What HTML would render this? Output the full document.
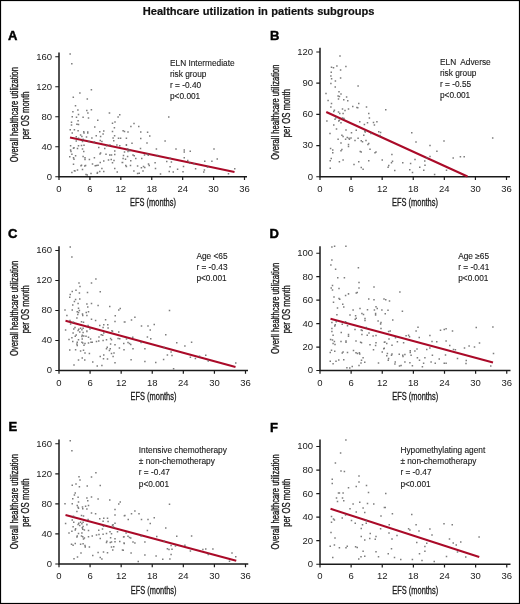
<!DOCTYPE html><html><head><meta charset="utf-8"><style>html,body{margin:0;padding:0;background:#fff}svg{display:block;will-change:transform}text{font-family:"Liberation Sans", sans-serif}</style></head><body>
<svg width="520" height="604" viewBox="0 0 520 604">
<rect x="0" y="0" width="520" height="604" fill="#fff"/>
<rect x="0.5" y="0.5" width="519" height="603" fill="none" stroke="#000" stroke-width="1.2"/>
<text x="258.6" y="15.4" font-size="11.1" font-weight="bold" text-anchor="middle" fill="#111" stroke="#111" stroke-width="0.2" word-spacing="0.3">Healthcare utilization in patients subgroups</text>
<g><text x="7.9" y="39.55" font-size="13" font-weight="bold" fill="#000" stroke="#000" stroke-width="0.45">A</text><path d="M59 52.4V176.75H247" fill="none" stroke="#1a1a1a" stroke-width="1.5"/><text x="52" y="179.65" font-size="9.5" text-anchor="end" fill="#1a1a1a">0</text><text x="52" y="149.65" font-size="9.5" text-anchor="end" fill="#1a1a1a">40</text><text x="52" y="119.65" font-size="9.5" text-anchor="end" fill="#1a1a1a">80</text><text x="52" y="89.65" font-size="9.5" text-anchor="end" fill="#1a1a1a">120</text><text x="52" y="59.65" font-size="9.5" text-anchor="end" fill="#1a1a1a">160</text><text x="59" y="191.85" font-size="9.5" text-anchor="middle" fill="#1a1a1a">0</text><text x="89.92" y="191.85" font-size="9.5" text-anchor="middle" fill="#1a1a1a">6</text><text x="120.83" y="191.85" font-size="9.5" text-anchor="middle" fill="#1a1a1a">12</text><text x="151.75" y="191.85" font-size="9.5" text-anchor="middle" fill="#1a1a1a">18</text><text x="182.67" y="191.85" font-size="9.5" text-anchor="middle" fill="#1a1a1a">24</text><text x="213.58" y="191.85" font-size="9.5" text-anchor="middle" fill="#1a1a1a">30</text><text x="244.5" y="191.85" font-size="9.5" text-anchor="middle" fill="#1a1a1a">36</text><path d="M55.3 176.75H59M55.3 146.75H59M55.3 116.75H59M55.3 86.75H59M55.3 56.75H59M59 176.75V179.95M89.92 176.75V179.95M120.83 176.75V179.95M151.75 176.75V179.95M182.67 176.75V179.95M213.58 176.75V179.95M244.5 176.75V179.95" stroke="#1a1a1a" stroke-width="1.2" fill="none"/><line x1="70" y1="137.5" x2="234.5" y2="172" stroke="#aa0a28" stroke-width="2"/><path d="M69.4 53.15h1.5v1.5h-1.5zM71.05 63.1h1.5v1.5h-1.5zM90.65 88.95h1.5v1.5h-1.5zM79.15 92.25h1.5v1.5h-1.5zM72.55 96.55h1.5v1.5h-1.5zM86.55 98.35h1.5v1.5h-1.5zM74.75 105h1.5v1.5h-1.5zM77.15 109.25h1.5v1.5h-1.5zM72.15 111.05h1.5v1.5h-1.5zM86.05 109.65h1.5v1.5h-1.5zM90.65 109.05h1.5v1.5h-1.5zM87.15 112.35h1.5v1.5h-1.5zM108.75 112.25h1.5v1.5h-1.5zM77.75 113.75h1.5v1.5h-1.5zM71.5 116h1.5v1.5h-1.5zM75.75 116.5h1.5v1.5h-1.5zM82.35 116.5h1.5v1.5h-1.5zM87.75 117.25h1.5v1.5h-1.5zM77.35 120h1.5v1.5h-1.5zM70.75 121.5h1.5v1.5h-1.5zM97 119.5h1.5v1.5h-1.5zM70.75 124.25h1.5v1.5h-1.5zM76.15 123.5h1.5v1.5h-1.5zM77.75 123.75h1.5v1.5h-1.5zM108.65 112.25h1.5v1.5h-1.5zM119 114h1.5v1.5h-1.5zM117.35 116.25h1.5v1.5h-1.5zM111.75 122.5h1.5v1.5h-1.5zM114.25 121.25h1.5v1.5h-1.5zM94 126.25h1.5v1.5h-1.5zM113.65 127h1.5v1.5h-1.5zM69.5 129h1.5v1.5h-1.5zM73.65 129h1.5v1.5h-1.5zM77.35 130h1.5v1.5h-1.5zM83 131h1.5v1.5h-1.5zM83.25 132.25h1.5v1.5h-1.5zM87 131.25h1.5v1.5h-1.5zM87 132.25h1.5v1.5h-1.5zM99 131h1.5v1.5h-1.5zM103 130.25h1.5v1.5h-1.5zM102.35 133.15h1.5v1.5h-1.5zM111.75 130.65h1.5v1.5h-1.5zM122.35 130h1.5v1.5h-1.5zM71.5 132.25h1.5v1.5h-1.5zM79.85 134.35h1.5v1.5h-1.5zM81.15 135.65h1.5v1.5h-1.5zM85.75 136.25h1.5v1.5h-1.5zM95.5 135h1.5v1.5h-1.5zM99.85 135.65h1.5v1.5h-1.5zM91.15 137.25h1.5v1.5h-1.5zM113.85 135h1.5v1.5h-1.5zM112.35 137.25h1.5v1.5h-1.5zM117.75 137.5h1.5v1.5h-1.5zM119.85 137.5h1.5v1.5h-1.5zM75.5 136h1.5v1.5h-1.5zM77.75 137.5h1.5v1.5h-1.5zM82.35 138.5h1.5v1.5h-1.5zM75.5 140.25h1.5v1.5h-1.5zM81.75 140.65h1.5v1.5h-1.5zM88.25 140.65h1.5v1.5h-1.5zM93.65 141.25h1.5v1.5h-1.5zM99.5 139.75h1.5v1.5h-1.5zM101.15 140.65h1.5v1.5h-1.5zM113 140h1.5v1.5h-1.5zM69.85 145h1.5v1.5h-1.5zM72.75 147.5h1.5v1.5h-1.5zM73.25 147h1.5v1.5h-1.5zM77.75 145h1.5v1.5h-1.5zM80.75 144.75h1.5v1.5h-1.5zM83.25 144.5h1.5v1.5h-1.5zM76.75 147.85h1.5v1.5h-1.5zM81.75 148.25h1.5v1.5h-1.5zM69.85 149.15h1.5v1.5h-1.5zM70.25 150.75h1.5v1.5h-1.5zM83 150.75h1.5v1.5h-1.5zM71.15 153.5h1.5v1.5h-1.5zM74.85 155h1.5v1.5h-1.5zM69 156h1.5v1.5h-1.5zM72.75 157h1.5v1.5h-1.5zM73.25 158.5h1.5v1.5h-1.5zM82.35 155.75h1.5v1.5h-1.5zM84.25 157h1.5v1.5h-1.5zM84.25 158.75h1.5v1.5h-1.5zM88.65 158.75h1.5v1.5h-1.5zM93.65 157h1.5v1.5h-1.5zM98 146.65h1.5v1.5h-1.5zM104 147.85h1.5v1.5h-1.5zM99.85 152.25h1.5v1.5h-1.5zM99.25 153.25h1.5v1.5h-1.5zM105.25 153.5h1.5v1.5h-1.5zM109 154.15h1.5v1.5h-1.5zM110.75 154.15h1.5v1.5h-1.5zM114 150.35h1.5v1.5h-1.5zM114 153.75h1.5v1.5h-1.5zM116.15 144.15h1.5v1.5h-1.5zM119 145h1.5v1.5h-1.5zM105.75 145h1.5v1.5h-1.5zM109.25 144.15h1.5v1.5h-1.5zM122.75 154.75h1.5v1.5h-1.5zM122.35 157.85h1.5v1.5h-1.5zM72.75 163.5h1.5v1.5h-1.5zM80.75 164.5h1.5v1.5h-1.5zM80.25 165h1.5v1.5h-1.5zM84.85 164.75h1.5v1.5h-1.5zM84 165.35h1.5v1.5h-1.5zM91.75 163.25h1.5v1.5h-1.5zM94.5 165h1.5v1.5h-1.5zM95.75 164.75h1.5v1.5h-1.5zM97.35 164.5h1.5v1.5h-1.5zM99.5 161.65h1.5v1.5h-1.5zM103 160.35h1.5v1.5h-1.5zM107.75 159.15h1.5v1.5h-1.5zM110.5 158.75h1.5v1.5h-1.5zM113.25 159.75h1.5v1.5h-1.5zM111.75 162h1.5v1.5h-1.5zM121.5 161.65h1.5v1.5h-1.5zM71.15 171.65h1.5v1.5h-1.5zM73.65 170h1.5v1.5h-1.5zM74.25 170.35h1.5v1.5h-1.5zM76.75 169.15h1.5v1.5h-1.5zM81.75 168.75h1.5v1.5h-1.5zM85.25 173.75h1.5v1.5h-1.5zM86.5 174.15h1.5v1.5h-1.5zM90.25 172.85h1.5v1.5h-1.5zM96.75 171.65h1.5v1.5h-1.5zM96.5 172.5h1.5v1.5h-1.5zM99 170.75h1.5v1.5h-1.5zM101.15 167.85h1.5v1.5h-1.5zM103 170.75h1.5v1.5h-1.5zM114 167.85h1.5v1.5h-1.5zM116.5 171.25h1.5v1.5h-1.5zM168 116.15h1.5v1.5h-1.5zM130.15 125.75h1.5v1.5h-1.5zM133.25 122.75h1.5v1.5h-1.5zM138 125.75h1.5v1.5h-1.5zM123.75 130.85h1.5v1.5h-1.5zM127.25 131.25h1.5v1.5h-1.5zM140 131.25h1.5v1.5h-1.5zM146.85 131.5h1.5v1.5h-1.5zM149 135.25h1.5v1.5h-1.5zM125.65 137.5h1.5v1.5h-1.5zM140 137.85h1.5v1.5h-1.5zM164.35 140.25h1.5v1.5h-1.5zM131.25 142.5h1.5v1.5h-1.5zM146.25 142.25h1.5v1.5h-1.5zM125.65 144h1.5v1.5h-1.5zM125.65 144.5h1.5v1.5h-1.5zM126.85 148.25h1.5v1.5h-1.5zM128.5 149.15h1.5v1.5h-1.5zM127.25 150.75h1.5v1.5h-1.5zM129 150h1.5v1.5h-1.5zM123.75 151.25h1.5v1.5h-1.5zM139.75 147.85h1.5v1.5h-1.5zM155.65 148.25h1.5v1.5h-1.5zM175.25 148.25h1.5v1.5h-1.5zM183.5 149.15h1.5v1.5h-1.5zM183.5 151.25h1.5v1.5h-1.5zM126.85 155.75h1.5v1.5h-1.5zM132.25 154.15h1.5v1.5h-1.5zM133.5 155h1.5v1.5h-1.5zM143.75 154.15h1.5v1.5h-1.5zM146.85 153.5h1.5v1.5h-1.5zM147.5 154.5h1.5v1.5h-1.5zM156.85 154.75h1.5v1.5h-1.5zM135 157.85h1.5v1.5h-1.5zM141 157.85h1.5v1.5h-1.5zM124.75 158.5h1.5v1.5h-1.5zM130 160h1.5v1.5h-1.5zM169.35 157.5h1.5v1.5h-1.5zM166 160.75h1.5v1.5h-1.5zM170.65 161.25h1.5v1.5h-1.5zM183.5 157h1.5v1.5h-1.5zM121.85 161.65h1.5v1.5h-1.5zM154.35 162h1.5v1.5h-1.5zM147.75 163.25h1.5v1.5h-1.5zM148.5 164.75h1.5v1.5h-1.5zM125 164.75h1.5v1.5h-1.5zM125.65 165.75h1.5v1.5h-1.5zM129.75 164.75h1.5v1.5h-1.5zM136.85 165.35h1.5v1.5h-1.5zM140.65 167h1.5v1.5h-1.5zM142.75 165.75h1.5v1.5h-1.5zM144 166.65h1.5v1.5h-1.5zM154.75 167.85h1.5v1.5h-1.5zM169.35 166h1.5v1.5h-1.5zM182.75 165.75h1.5v1.5h-1.5zM133.15 170.35h1.5v1.5h-1.5zM136.85 172.85h1.5v1.5h-1.5zM138.5 172.5h1.5v1.5h-1.5zM142.25 170.35h1.5v1.5h-1.5zM159.75 173.25h1.5v1.5h-1.5zM168.5 170.75h1.5v1.5h-1.5zM172.5 171.25h1.5v1.5h-1.5zM176.85 168.5h1.5v1.5h-1.5zM182.25 171h1.5v1.5h-1.5zM189.5 150.5h1.5v1.5h-1.5zM213.25 148.25h1.5v1.5h-1.5zM216.5 158.25h1.5v1.5h-1.5zM204 160.5h1.5v1.5h-1.5zM211.15 160.5h1.5v1.5h-1.5zM187 159.85h1.5v1.5h-1.5zM189 162.35h1.5v1.5h-1.5zM193.25 163h1.5v1.5h-1.5zM194.85 168h1.5v1.5h-1.5zM203.65 169.25h1.5v1.5h-1.5zM203 171.15h1.5v1.5h-1.5zM206.75 166.15h1.5v1.5h-1.5zM227.75 173h1.5v1.5h-1.5zM234 168h1.5v1.5h-1.5z" fill="#666" fill-opacity="0.85"/><text transform="translate(17.7 114.58) rotate(-90) scale(0.69 1)" font-size="11" text-anchor="middle" fill="#1a1a1a" stroke="#1a1a1a" stroke-width="0.35">Overall healthcare utilization</text><text transform="translate(29.1 115.48) rotate(-90) scale(0.705 1)" font-size="11" text-anchor="middle" fill="#1a1a1a" stroke="#1a1a1a" stroke-width="0.35">per OS month</text><text transform="translate(153 206.4) scale(0.725 1)" font-size="10.25" text-anchor="middle" fill="#1a1a1a" stroke="#1a1a1a" stroke-width="0.3">EFS (months)</text><text x="170" y="65.9" font-size="8.3" fill="#1a1a1a" stroke="#1a1a1a" stroke-width="0.12" style="white-space:pre">ELN Intermediate</text><text x="170" y="76.95" font-size="8.3" fill="#1a1a1a" stroke="#1a1a1a" stroke-width="0.12" style="white-space:pre">risk group</text><text x="170" y="88" font-size="8.3" fill="#1a1a1a" stroke="#1a1a1a" stroke-width="0.12" style="white-space:pre">r = -0.40</text><text x="170" y="99.05" font-size="8.3" fill="#1a1a1a" stroke="#1a1a1a" stroke-width="0.12" style="white-space:pre">p&lt;0.001</text></g>
<g><text x="269.9" y="39.55" font-size="13" font-weight="bold" fill="#000" stroke="#000" stroke-width="0.45">B</text><path d="M320 47.7V176.75H510" fill="none" stroke="#1a1a1a" stroke-width="1.5"/><text x="313" y="179.65" font-size="9.5" text-anchor="end" fill="#1a1a1a">0</text><text x="313" y="148.46" font-size="9.5" text-anchor="end" fill="#1a1a1a">30</text><text x="313" y="117.28" font-size="9.5" text-anchor="end" fill="#1a1a1a">60</text><text x="313" y="86.09" font-size="9.5" text-anchor="end" fill="#1a1a1a">90</text><text x="313" y="54.9" font-size="9.5" text-anchor="end" fill="#1a1a1a">120</text><text x="320" y="191.85" font-size="9.5" text-anchor="middle" fill="#1a1a1a">0</text><text x="351.08" y="191.85" font-size="9.5" text-anchor="middle" fill="#1a1a1a">6</text><text x="382.17" y="191.85" font-size="9.5" text-anchor="middle" fill="#1a1a1a">12</text><text x="413.25" y="191.85" font-size="9.5" text-anchor="middle" fill="#1a1a1a">18</text><text x="444.33" y="191.85" font-size="9.5" text-anchor="middle" fill="#1a1a1a">24</text><text x="475.42" y="191.85" font-size="9.5" text-anchor="middle" fill="#1a1a1a">30</text><text x="506.5" y="191.85" font-size="9.5" text-anchor="middle" fill="#1a1a1a">36</text><path d="M316.3 176.75H320M316.3 145.56H320M316.3 114.38H320M316.3 83.19H320M316.3 52H320M320 176.75V179.95M351.08 176.75V179.95M382.17 176.75V179.95M413.25 176.75V179.95M444.33 176.75V179.95M475.42 176.75V179.95M506.5 176.75V179.95" stroke="#1a1a1a" stroke-width="1.2" fill="none"/><line x1="326.25" y1="112" x2="467.5" y2="176.5" stroke="#aa0a28" stroke-width="2"/><path d="M339.25 55.25h1.5v1.5h-1.5zM330.75 66.5h1.5v1.5h-1.5zM332.75 67h1.5v1.5h-1.5zM336.15 65.15h1.5v1.5h-1.5zM345.15 65.85h1.5v1.5h-1.5zM339.85 69.25h1.5v1.5h-1.5zM330.5 71.5h1.5v1.5h-1.5zM330.15 75.15h1.5v1.5h-1.5zM330.85 78h1.5v1.5h-1.5zM339.85 77.35h1.5v1.5h-1.5zM334.65 80.25h1.5v1.5h-1.5zM330.15 82.75h1.5v1.5h-1.5zM334.5 86.25h1.5v1.5h-1.5zM357.35 85.15h1.5v1.5h-1.5zM325.25 92.65h1.5v1.5h-1.5zM338.25 91h1.5v1.5h-1.5zM340.25 93.25h1.5v1.5h-1.5zM337.35 95.25h1.5v1.5h-1.5zM338.65 95.75h1.5v1.5h-1.5zM337.75 98.25h1.5v1.5h-1.5zM345.85 96.35h1.5v1.5h-1.5zM343 99h1.5v1.5h-1.5zM327.35 99.75h1.5v1.5h-1.5zM347 100h1.5v1.5h-1.5zM330.75 102.85h1.5v1.5h-1.5zM330.15 106.25h1.5v1.5h-1.5zM358 102.85h1.5v1.5h-1.5zM352 105.65h1.5v1.5h-1.5zM356.15 106.65h1.5v1.5h-1.5zM357 107h1.5v1.5h-1.5zM365.75 106.25h1.5v1.5h-1.5zM341.75 108.25h1.5v1.5h-1.5zM344.25 109.75h1.5v1.5h-1.5zM347.75 108.25h1.5v1.5h-1.5zM333.65 109.5h1.5v1.5h-1.5zM333 110.75h1.5v1.5h-1.5zM337.75 111.25h1.5v1.5h-1.5zM339 112.85h1.5v1.5h-1.5zM342.35 112.85h1.5v1.5h-1.5zM368 112.85h1.5v1.5h-1.5zM335.25 117h1.5v1.5h-1.5zM341.75 117.25h1.5v1.5h-1.5zM343.25 117.85h1.5v1.5h-1.5zM334.25 118.5h1.5v1.5h-1.5zM368.65 117.25h1.5v1.5h-1.5zM326.15 120.15h1.5v1.5h-1.5zM338 120.35h1.5v1.5h-1.5zM338.65 119.5h1.5v1.5h-1.5zM340.25 122h1.5v1.5h-1.5zM359 121h1.5v1.5h-1.5zM333 124.15h1.5v1.5h-1.5zM363.65 123.75h1.5v1.5h-1.5zM366.75 122h1.5v1.5h-1.5zM372.75 121.65h1.5v1.5h-1.5zM376.15 121h1.5v1.5h-1.5zM373.65 124.15h1.5v1.5h-1.5zM335.75 128.25h1.5v1.5h-1.5zM345.25 129.15h1.5v1.5h-1.5zM355.5 129.5h1.5v1.5h-1.5zM364 130.35h1.5v1.5h-1.5zM364.5 131.25h1.5v1.5h-1.5zM350.75 132h1.5v1.5h-1.5zM370.25 132.85h1.5v1.5h-1.5zM378 131h1.5v1.5h-1.5zM379.85 131.65h1.5v1.5h-1.5zM329.25 132.85h1.5v1.5h-1.5zM341.15 134.5h1.5v1.5h-1.5zM342.35 135.75h1.5v1.5h-1.5zM363 134.5h1.5v1.5h-1.5zM346.5 136.65h1.5v1.5h-1.5zM348.25 137.5h1.5v1.5h-1.5zM350.25 137.25h1.5v1.5h-1.5zM337.35 138.5h1.5v1.5h-1.5zM357.35 137.5h1.5v1.5h-1.5zM344.85 138.5h1.5v1.5h-1.5zM379.25 134.75h1.5v1.5h-1.5zM348.65 138.5h1.5v1.5h-1.5zM354.25 139.75h1.5v1.5h-1.5zM360.5 140h1.5v1.5h-1.5zM361.75 141h1.5v1.5h-1.5zM365.25 139.75h1.5v1.5h-1.5zM340.25 142.25h1.5v1.5h-1.5zM347.75 143.75h1.5v1.5h-1.5zM347.75 145.75h1.5v1.5h-1.5zM368 142.85h1.5v1.5h-1.5zM367.15 143.75h1.5v1.5h-1.5zM329.85 147.85h1.5v1.5h-1.5zM332 149.15h1.5v1.5h-1.5zM341.15 148.75h1.5v1.5h-1.5zM340.25 150h1.5v1.5h-1.5zM369.25 148.5h1.5v1.5h-1.5zM332 152h1.5v1.5h-1.5zM359.5 150.75h1.5v1.5h-1.5zM360.5 151.25h1.5v1.5h-1.5zM374.25 152h1.5v1.5h-1.5zM375.25 151.25h1.5v1.5h-1.5zM330.5 157.85h1.5v1.5h-1.5zM329.5 160h1.5v1.5h-1.5zM342.35 159.15h1.5v1.5h-1.5zM338.65 161h1.5v1.5h-1.5zM358 161h1.5v1.5h-1.5zM368 160h1.5v1.5h-1.5zM381.5 159.15h1.5v1.5h-1.5zM353.25 163.75h1.5v1.5h-1.5zM329.5 167.5h1.5v1.5h-1.5zM360.5 166.65h1.5v1.5h-1.5zM362.35 168.5h1.5v1.5h-1.5zM385 109h1.5v1.5h-1.5zM440.25 99.5h1.5v1.5h-1.5zM415.25 141.15h1.5v1.5h-1.5zM443.25 140.25h1.5v1.5h-1.5zM429.25 144.85h1.5v1.5h-1.5zM436.15 150.5h1.5v1.5h-1.5zM391.15 153.65h1.5v1.5h-1.5zM429.25 155.75h1.5v1.5h-1.5zM426.15 157.35h1.5v1.5h-1.5zM391.75 160.5h1.5v1.5h-1.5zM390.75 162h1.5v1.5h-1.5zM414.25 158.65h1.5v1.5h-1.5zM424 160.25h1.5v1.5h-1.5zM402 162h1.5v1.5h-1.5zM409.85 162.75h1.5v1.5h-1.5zM388 164.85h1.5v1.5h-1.5zM387.35 166.5h1.5v1.5h-1.5zM424.25 164.5h1.5v1.5h-1.5zM419 166.5h1.5v1.5h-1.5zM394 169.85h1.5v1.5h-1.5zM409 169h1.5v1.5h-1.5zM411.75 171.75h1.5v1.5h-1.5zM423 169.5h1.5v1.5h-1.5zM433.85 173.65h1.5v1.5h-1.5zM491.95 137.35h1.5v1.5h-1.5zM452.45 157.15h1.5v1.5h-1.5zM459.65 156.1h1.5v1.5h-1.5zM463.45 156.1h1.5v1.5h-1.5zM445.75 169.45h1.5v1.5h-1.5zM411 132h1.5v1.5h-1.5z" fill="#666" fill-opacity="0.85"/><text transform="translate(278.7 112.22) rotate(-90) scale(0.69 1)" font-size="11" text-anchor="middle" fill="#1a1a1a" stroke="#1a1a1a" stroke-width="0.35">Overall healthcare utilization</text><text transform="translate(290.1 113.12) rotate(-90) scale(0.705 1)" font-size="11" text-anchor="middle" fill="#1a1a1a" stroke="#1a1a1a" stroke-width="0.35">per OS month</text><text transform="translate(415 206.4) scale(0.725 1)" font-size="10.25" text-anchor="middle" fill="#1a1a1a" stroke="#1a1a1a" stroke-width="0.3">EFS (months)</text><text x="440" y="65" font-size="8.3" fill="#1a1a1a" stroke="#1a1a1a" stroke-width="0.12" style="white-space:pre">ELN  Adverse</text><text x="440" y="76.05" font-size="8.3" fill="#1a1a1a" stroke="#1a1a1a" stroke-width="0.12" style="white-space:pre">risk group</text><text x="440" y="87.1" font-size="8.3" fill="#1a1a1a" stroke="#1a1a1a" stroke-width="0.12" style="white-space:pre">r = -0.55</text><text x="440" y="98.15" font-size="8.3" fill="#1a1a1a" stroke="#1a1a1a" stroke-width="0.12" style="white-space:pre">p&lt;0.001</text></g>
<g><text x="7.9" y="237.8" font-size="13" font-weight="bold" fill="#000" stroke="#000" stroke-width="0.45">C</text><path d="M59 246.25V370.5H248" fill="none" stroke="#1a1a1a" stroke-width="1.5"/><text x="52" y="373.4" font-size="9.5" text-anchor="end" fill="#1a1a1a">0</text><text x="52" y="343.4" font-size="9.5" text-anchor="end" fill="#1a1a1a">40</text><text x="52" y="313.4" font-size="9.5" text-anchor="end" fill="#1a1a1a">80</text><text x="52" y="283.4" font-size="9.5" text-anchor="end" fill="#1a1a1a">120</text><text x="52" y="253.4" font-size="9.5" text-anchor="end" fill="#1a1a1a">160</text><text x="59" y="385.6" font-size="9.5" text-anchor="middle" fill="#1a1a1a">0</text><text x="90.08" y="385.6" font-size="9.5" text-anchor="middle" fill="#1a1a1a">6</text><text x="121.17" y="385.6" font-size="9.5" text-anchor="middle" fill="#1a1a1a">12</text><text x="152.25" y="385.6" font-size="9.5" text-anchor="middle" fill="#1a1a1a">18</text><text x="183.33" y="385.6" font-size="9.5" text-anchor="middle" fill="#1a1a1a">24</text><text x="214.42" y="385.6" font-size="9.5" text-anchor="middle" fill="#1a1a1a">30</text><text x="245.5" y="385.6" font-size="9.5" text-anchor="middle" fill="#1a1a1a">36</text><path d="M55.3 370.5H59M55.3 340.5H59M55.3 310.5H59M55.3 280.5H59M55.3 250.5H59M59 370.5V373.7M90.08 370.5V373.7M121.17 370.5V373.7M152.25 370.5V373.7M183.33 370.5V373.7M214.42 370.5V373.7M245.5 370.5V373.7" stroke="#1a1a1a" stroke-width="1.2" fill="none"/><line x1="65.5" y1="320.75" x2="235.5" y2="367" stroke="#aa0a28" stroke-width="2"/><path d="M69.5 246.35h1.5v1.5h-1.5zM71.15 256.35h1.5v1.5h-1.5zM95.15 278.25h1.5v1.5h-1.5zM78.25 282.25h1.5v1.5h-1.5zM90.75 282.35h1.5v1.5h-1.5zM79.25 285.75h1.5v1.5h-1.5zM75.25 289.5h1.5v1.5h-1.5zM71.5 290.75h1.5v1.5h-1.5zM78.65 292.25h1.5v1.5h-1.5zM86.75 291.75h1.5v1.5h-1.5zM99.5 291h1.5v1.5h-1.5zM69.5 293.75h1.5v1.5h-1.5zM69 296.5h1.5v1.5h-1.5zM74.85 298.75h1.5v1.5h-1.5zM73.65 300.65h1.5v1.5h-1.5zM79 298.15h1.5v1.5h-1.5zM72 304.35h1.5v1.5h-1.5zM77.35 302.75h1.5v1.5h-1.5zM86.15 303.15h1.5v1.5h-1.5zM90.75 302.75h1.5v1.5h-1.5zM87 306.25h1.5v1.5h-1.5zM97.35 304.75h1.5v1.5h-1.5zM109 305.65h1.5v1.5h-1.5zM64.25 309.35h1.5v1.5h-1.5zM71.5 309.35h1.5v1.5h-1.5zM77.75 307.5h1.5v1.5h-1.5zM78.65 309.75h1.5v1.5h-1.5zM76.5 311h1.5v1.5h-1.5zM77.75 311.85h1.5v1.5h-1.5zM77 313.75h1.5v1.5h-1.5zM81.75 313.15h1.5v1.5h-1.5zM82 314.75h1.5v1.5h-1.5zM85.5 311.85h1.5v1.5h-1.5zM87.75 311h1.5v1.5h-1.5zM86.15 314.75h1.5v1.5h-1.5zM118 309.35h1.5v1.5h-1.5zM119.5 307.75h1.5v1.5h-1.5zM66.15 314.75h1.5v1.5h-1.5zM114.5 315h1.5v1.5h-1.5zM76.15 317.25h1.5v1.5h-1.5zM90.75 318.5h1.5v1.5h-1.5zM94.85 319.75h1.5v1.5h-1.5zM104.85 319h1.5v1.5h-1.5zM114.25 320.65h1.5v1.5h-1.5zM123.65 321.25h1.5v1.5h-1.5zM69.25 319.75h1.5v1.5h-1.5zM80.75 321h1.5v1.5h-1.5zM82.75 321.5h1.5v1.5h-1.5zM69.85 323.15h1.5v1.5h-1.5zM72.75 321.5h1.5v1.5h-1.5zM99 324.75h1.5v1.5h-1.5zM103 324h1.5v1.5h-1.5zM107 324h1.5v1.5h-1.5zM87.35 324.75h1.5v1.5h-1.5zM102.35 326.85h1.5v1.5h-1.5zM107.35 327.25h1.5v1.5h-1.5zM74.25 326.85h1.5v1.5h-1.5zM73 328.15h1.5v1.5h-1.5zM78 328.5h1.5v1.5h-1.5zM79.85 327.5h1.5v1.5h-1.5zM81.15 329h1.5v1.5h-1.5zM82.35 327.5h1.5v1.5h-1.5zM64.85 329.35h1.5v1.5h-1.5zM86.15 330.65h1.5v1.5h-1.5zM111.15 330h1.5v1.5h-1.5zM89.25 328.15h1.5v1.5h-1.5zM77.35 329.85h1.5v1.5h-1.5zM79 331.15h1.5v1.5h-1.5zM82.35 331.75h1.5v1.5h-1.5zM86.15 330.25h1.5v1.5h-1.5zM72.35 332.35h1.5v1.5h-1.5zM75.5 334.25h1.5v1.5h-1.5zM74.5 335.5h1.5v1.5h-1.5zM81.5 334.5h1.5v1.5h-1.5zM83 335.25h1.5v1.5h-1.5zM81.15 335.75h1.5v1.5h-1.5zM85.25 335.5h1.5v1.5h-1.5zM87.75 336.5h1.5v1.5h-1.5zM71.15 337h1.5v1.5h-1.5zM68.25 338.65h1.5v1.5h-1.5zM77.75 339h1.5v1.5h-1.5zM81.5 338.25h1.5v1.5h-1.5zM89.85 338.25h1.5v1.5h-1.5zM98.25 336.15h1.5v1.5h-1.5zM100.5 334h1.5v1.5h-1.5zM102 334.5h1.5v1.5h-1.5zM103 332.35h1.5v1.5h-1.5zM111.75 330.5h1.5v1.5h-1.5zM118 331.15h1.5v1.5h-1.5zM117.35 337.75h1.5v1.5h-1.5zM119 338h1.5v1.5h-1.5zM109.85 337.75h1.5v1.5h-1.5zM110.75 339h1.5v1.5h-1.5zM72 340.75h1.5v1.5h-1.5zM76.5 341.5h1.5v1.5h-1.5zM76.15 343.25h1.5v1.5h-1.5zM76.5 344.85h1.5v1.5h-1.5zM81.15 341.5h1.5v1.5h-1.5zM82 342.35h1.5v1.5h-1.5zM84.25 342.75h1.5v1.5h-1.5zM83.25 344.5h1.5v1.5h-1.5zM87.75 342.35h1.5v1.5h-1.5zM90.25 341.5h1.5v1.5h-1.5zM91.5 341.5h1.5v1.5h-1.5zM95.75 340.75h1.5v1.5h-1.5zM98 340.25h1.5v1.5h-1.5zM102.35 339.85h1.5v1.5h-1.5zM105.75 339h1.5v1.5h-1.5zM109.85 343.25h1.5v1.5h-1.5zM114.25 344h1.5v1.5h-1.5zM123 342.75h1.5v1.5h-1.5zM106.5 346.5h1.5v1.5h-1.5zM105.75 348h1.5v1.5h-1.5zM109.5 348h1.5v1.5h-1.5zM108.65 349.85h1.5v1.5h-1.5zM118.65 347.35h1.5v1.5h-1.5zM123.25 349h1.5v1.5h-1.5zM69 349.25h1.5v1.5h-1.5zM74.85 349h1.5v1.5h-1.5zM79.85 350.25h1.5v1.5h-1.5zM82.75 349.5h1.5v1.5h-1.5zM84.25 352.35h1.5v1.5h-1.5zM88.65 352.75h1.5v1.5h-1.5zM110.75 352.75h1.5v1.5h-1.5zM113.25 352.35h1.5v1.5h-1.5zM103 354.25h1.5v1.5h-1.5zM99.5 355.75h1.5v1.5h-1.5zM112.35 355.75h1.5v1.5h-1.5zM77.75 359.25h1.5v1.5h-1.5zM81.5 357.35h1.5v1.5h-1.5zM84 359.25h1.5v1.5h-1.5zM102.75 358h1.5v1.5h-1.5zM106.75 358.25h1.5v1.5h-1.5zM92 361.15h1.5v1.5h-1.5zM114.25 362h1.5v1.5h-1.5zM73.25 364.25h1.5v1.5h-1.5zM96.5 365.25h1.5v1.5h-1.5zM101.15 364.85h1.5v1.5h-1.5zM168.75 309.85h1.5v1.5h-1.5zM134.15 316.5h1.5v1.5h-1.5zM130.75 319.25h1.5v1.5h-1.5zM124.15 321.35h1.5v1.5h-1.5zM140.75 325.15h1.5v1.5h-1.5zM147.25 325.25h1.5v1.5h-1.5zM153.5 323.65h1.5v1.5h-1.5zM149.5 329.25h1.5v1.5h-1.5zM165 334h1.5v1.5h-1.5zM132 336.5h1.5v1.5h-1.5zM146.65 336.15h1.5v1.5h-1.5zM150 338h1.5v1.5h-1.5zM125.75 338.25h1.5v1.5h-1.5zM127.25 341.75h1.5v1.5h-1.5zM128.75 342.75h1.5v1.5h-1.5zM130 343.65h1.5v1.5h-1.5zM140.35 341.75h1.5v1.5h-1.5zM176 342h1.5v1.5h-1.5zM184.15 345.25h1.5v1.5h-1.5zM163.5 346.75h1.5v1.5h-1.5zM132.25 348h1.5v1.5h-1.5zM144.15 348h1.5v1.5h-1.5zM170.35 351.15h1.5v1.5h-1.5zM166.65 354.25h1.5v1.5h-1.5zM171.25 354.85h1.5v1.5h-1.5zM130.35 359h1.5v1.5h-1.5zM144.15 360.75h1.5v1.5h-1.5zM155 361.75h1.5v1.5h-1.5zM162.85 358.65h1.5v1.5h-1.5zM172.85 368h1.5v1.5h-1.5zM190.85 341.5h1.5v1.5h-1.5zM189.65 356.5h1.5v1.5h-1.5zM194.65 357.75h1.5v1.5h-1.5zM198.75 355.5h1.5v1.5h-1.5zM205 354.5h1.5v1.5h-1.5zM207.5 360.25h1.5v1.5h-1.5zM235 362.35h1.5v1.5h-1.5z" fill="#666" fill-opacity="0.85"/><text transform="translate(17.7 308.38) rotate(-90) scale(0.69 1)" font-size="11" text-anchor="middle" fill="#1a1a1a" stroke="#1a1a1a" stroke-width="0.35">Overall healthcare utilization</text><text transform="translate(29.1 309.27) rotate(-90) scale(0.705 1)" font-size="11" text-anchor="middle" fill="#1a1a1a" stroke="#1a1a1a" stroke-width="0.35">per OS month</text><text transform="translate(153.5 400.15) scale(0.725 1)" font-size="10.25" text-anchor="middle" fill="#1a1a1a" stroke="#1a1a1a" stroke-width="0.3">EFS (months)</text><text x="196.4" y="258.8" font-size="8.3" fill="#1a1a1a" stroke="#1a1a1a" stroke-width="0.12" style="white-space:pre">Age &lt;65</text><text x="196.4" y="269.85" font-size="8.3" fill="#1a1a1a" stroke="#1a1a1a" stroke-width="0.12" style="white-space:pre">r = -0.43</text><text x="196.4" y="280.9" font-size="8.3" fill="#1a1a1a" stroke="#1a1a1a" stroke-width="0.12" style="white-space:pre">p&lt;0.001</text></g>
<g><text x="269.4" y="237.8" font-size="13" font-weight="bold" fill="#000" stroke="#000" stroke-width="0.45">D</text><path d="M320 246.25V370.5H510.5" fill="none" stroke="#1a1a1a" stroke-width="1.5"/><text x="313" y="373.4" font-size="9.5" text-anchor="end" fill="#1a1a1a">0</text><text x="313" y="349.95" font-size="9.5" text-anchor="end" fill="#1a1a1a">20</text><text x="313" y="326.5" font-size="9.5" text-anchor="end" fill="#1a1a1a">40</text><text x="313" y="303.05" font-size="9.5" text-anchor="end" fill="#1a1a1a">60</text><text x="313" y="279.6" font-size="9.5" text-anchor="end" fill="#1a1a1a">80</text><text x="313" y="256.15" font-size="9.5" text-anchor="end" fill="#1a1a1a">100</text><text x="320" y="385.6" font-size="9.5" text-anchor="middle" fill="#1a1a1a">0</text><text x="351.12" y="385.6" font-size="9.5" text-anchor="middle" fill="#1a1a1a">6</text><text x="382.25" y="385.6" font-size="9.5" text-anchor="middle" fill="#1a1a1a">12</text><text x="413.38" y="385.6" font-size="9.5" text-anchor="middle" fill="#1a1a1a">18</text><text x="444.5" y="385.6" font-size="9.5" text-anchor="middle" fill="#1a1a1a">24</text><text x="475.62" y="385.6" font-size="9.5" text-anchor="middle" fill="#1a1a1a">30</text><text x="506.75" y="385.6" font-size="9.5" text-anchor="middle" fill="#1a1a1a">36</text><path d="M316.3 370.5H320M316.3 347.05H320M316.3 323.6H320M316.3 300.15H320M316.3 276.7H320M316.3 253.25H320M320 370.5V373.7M351.12 370.5V373.7M382.25 370.5V373.7M413.38 370.5V373.7M444.5 370.5V373.7M475.62 370.5V373.7M506.75 370.5V373.7" stroke="#1a1a1a" stroke-width="1.2" fill="none"/><line x1="330.5" y1="318.75" x2="493" y2="362.5" stroke="#aa0a28" stroke-width="2"/><path d="M331.15 246.35h1.5v1.5h-1.5zM333.85 245.5h1.5v1.5h-1.5zM345.15 245.5h1.5v1.5h-1.5zM331.15 259.25h1.5v1.5h-1.5zM330.15 264.25h1.5v1.5h-1.5zM357.65 267h1.5v1.5h-1.5zM334.85 268.5h1.5v1.5h-1.5zM337 277h1.5v1.5h-1.5zM343.65 277h1.5v1.5h-1.5zM358.25 281.65h1.5v1.5h-1.5zM331.75 284.75h1.5v1.5h-1.5zM330.5 287.25h1.5v1.5h-1.5zM331.75 289.25h1.5v1.5h-1.5zM338.25 287.75h1.5v1.5h-1.5zM358.25 287.35h1.5v1.5h-1.5zM373.25 286.35h1.5v1.5h-1.5zM347.75 293h1.5v1.5h-1.5zM355.5 292.25h1.5v1.5h-1.5zM356.5 291.75h1.5v1.5h-1.5zM347.75 293.15h1.5v1.5h-1.5zM344.85 294.75h1.5v1.5h-1.5zM333.25 296.25h1.5v1.5h-1.5zM338.25 297.75h1.5v1.5h-1.5zM339 298.5h1.5v1.5h-1.5zM332.75 301.5h1.5v1.5h-1.5zM368 298.15h1.5v1.5h-1.5zM373.25 299h1.5v1.5h-1.5zM383.25 298.15h1.5v1.5h-1.5zM342 303.5h1.5v1.5h-1.5zM343 306.25h1.5v1.5h-1.5zM336.75 307.25h1.5v1.5h-1.5zM352.35 309.35h1.5v1.5h-1.5zM359.25 307.75h1.5v1.5h-1.5zM366.75 309h1.5v1.5h-1.5zM375.25 306h1.5v1.5h-1.5zM376.5 307.75h1.5v1.5h-1.5zM373.65 309.35h1.5v1.5h-1.5zM381.15 309.35h1.5v1.5h-1.5zM336.15 314h1.5v1.5h-1.5zM349.25 314.35h1.5v1.5h-1.5zM354.85 315h1.5v1.5h-1.5zM361.15 312.75h1.5v1.5h-1.5zM362.75 313.75h1.5v1.5h-1.5zM374.85 312.75h1.5v1.5h-1.5zM374.85 314.35h1.5v1.5h-1.5zM355.5 317.5h1.5v1.5h-1.5zM354.5 318.5h1.5v1.5h-1.5zM364.25 317.75h1.5v1.5h-1.5zM364.25 319.75h1.5v1.5h-1.5zM335.5 321h1.5v1.5h-1.5zM344.85 321h1.5v1.5h-1.5zM331.15 321.85h1.5v1.5h-1.5zM377.35 320.25h1.5v1.5h-1.5zM380.25 321.85h1.5v1.5h-1.5zM379.85 323.15h1.5v1.5h-1.5zM334.5 324h1.5v1.5h-1.5zM334 325.25h1.5v1.5h-1.5zM341.5 323.5h1.5v1.5h-1.5zM346.75 325h1.5v1.5h-1.5zM365.5 326.85h1.5v1.5h-1.5zM331.15 327.75h1.5v1.5h-1.5zM354.25 328.75h1.5v1.5h-1.5zM360.5 329.35h1.5v1.5h-1.5zM380.25 327.75h1.5v1.5h-1.5zM331.15 330.65h1.5v1.5h-1.5zM340.5 331.75h1.5v1.5h-1.5zM332.35 334.5h1.5v1.5h-1.5zM347.75 333.65h1.5v1.5h-1.5zM347.75 335.5h1.5v1.5h-1.5zM361.15 333.65h1.5v1.5h-1.5zM361.5 329.85h1.5v1.5h-1.5zM366.5 334.5h1.5v1.5h-1.5zM368.25 332.35h1.5v1.5h-1.5zM372.35 335.25h1.5v1.5h-1.5zM375.25 334.85h1.5v1.5h-1.5zM329.85 338.65h1.5v1.5h-1.5zM331.75 339.25h1.5v1.5h-1.5zM333.65 340.75h1.5v1.5h-1.5zM332.35 342.75h1.5v1.5h-1.5zM334.25 343.65h1.5v1.5h-1.5zM340.25 340.75h1.5v1.5h-1.5zM345.25 340.25h1.5v1.5h-1.5zM345.25 341.5h1.5v1.5h-1.5zM355.25 340.25h1.5v1.5h-1.5zM359.85 341.5h1.5v1.5h-1.5zM360.75 342h1.5v1.5h-1.5zM375.25 342h1.5v1.5h-1.5zM369.25 344h1.5v1.5h-1.5zM374.85 344.85h1.5v1.5h-1.5zM383.65 341.5h1.5v1.5h-1.5zM383 348h1.5v1.5h-1.5zM330.75 349.5h1.5v1.5h-1.5zM329.5 351.75h1.5v1.5h-1.5zM334 350.5h1.5v1.5h-1.5zM342.35 351.15h1.5v1.5h-1.5zM341.5 352.35h1.5v1.5h-1.5zM346.75 351.75h1.5v1.5h-1.5zM352.75 349.85h1.5v1.5h-1.5zM355.25 352h1.5v1.5h-1.5zM356.75 352.75h1.5v1.5h-1.5zM358.65 352h1.5v1.5h-1.5zM359 353.25h1.5v1.5h-1.5zM372.75 349h1.5v1.5h-1.5zM381.5 351.15h1.5v1.5h-1.5zM362.35 357h1.5v1.5h-1.5zM360.75 359.5h1.5v1.5h-1.5zM329.5 360.5h1.5v1.5h-1.5zM332.35 363h1.5v1.5h-1.5zM335.25 360.5h1.5v1.5h-1.5zM338 359.25h1.5v1.5h-1.5zM343 359h1.5v1.5h-1.5zM364 361.5h1.5v1.5h-1.5zM360.25 362.35h1.5v1.5h-1.5zM377.75 362.35h1.5v1.5h-1.5zM358.25 364.85h1.5v1.5h-1.5zM351.5 365.75h1.5v1.5h-1.5zM346.15 367h1.5v1.5h-1.5zM349 367.35h1.5v1.5h-1.5zM399.15 291.15h1.5v1.5h-1.5zM385 299h1.5v1.5h-1.5zM388.75 300.25h1.5v1.5h-1.5zM387.25 309.5h1.5v1.5h-1.5zM384.5 313h1.5v1.5h-1.5zM401.65 310.5h1.5v1.5h-1.5zM392 319.25h1.5v1.5h-1.5zM417.25 326.5h1.5v1.5h-1.5zM443.5 328.65h1.5v1.5h-1.5zM445.35 328h1.5v1.5h-1.5zM387.85 330.75h1.5v1.5h-1.5zM389.5 330.35h1.5v1.5h-1.5zM415.35 330.35h1.5v1.5h-1.5zM439.75 329.5h1.5v1.5h-1.5zM388.25 338.25h1.5v1.5h-1.5zM394.75 337h1.5v1.5h-1.5zM405.35 335h1.5v1.5h-1.5zM407.85 334.5h1.5v1.5h-1.5zM408.75 336h1.5v1.5h-1.5zM418.5 336.65h1.5v1.5h-1.5zM429.15 334.75h1.5v1.5h-1.5zM384.15 341.25h1.5v1.5h-1.5zM386 342.85h1.5v1.5h-1.5zM396.65 341h1.5v1.5h-1.5zM402.85 342h1.5v1.5h-1.5zM391.25 344.5h1.5v1.5h-1.5zM431.25 340.75h1.5v1.5h-1.5zM436 341h1.5v1.5h-1.5zM445.35 340.35h1.5v1.5h-1.5zM383.5 347.5h1.5v1.5h-1.5zM409.5 350h1.5v1.5h-1.5zM409.5 351.65h1.5v1.5h-1.5zM414.15 350.35h1.5v1.5h-1.5zM416.25 348.25h1.5v1.5h-1.5zM426 348.75h1.5v1.5h-1.5zM429.15 347.25h1.5v1.5h-1.5zM386.65 352.85h1.5v1.5h-1.5zM386 355h1.5v1.5h-1.5zM391.25 353.25h1.5v1.5h-1.5zM390.75 354.5h1.5v1.5h-1.5zM398.5 353.5h1.5v1.5h-1.5zM402 354.5h1.5v1.5h-1.5zM402.25 355.75h1.5v1.5h-1.5zM404.15 353.75h1.5v1.5h-1.5zM410.35 354.5h1.5v1.5h-1.5zM431.65 354.5h1.5v1.5h-1.5zM444.75 354.15h1.5v1.5h-1.5zM387.85 357.85h1.5v1.5h-1.5zM387.5 359.5h1.5v1.5h-1.5zM416.65 357h1.5v1.5h-1.5zM418.75 359.5h1.5v1.5h-1.5zM424.15 357h1.5v1.5h-1.5zM438.5 358.25h1.5v1.5h-1.5zM394.5 361.25h1.5v1.5h-1.5zM394.15 363.25h1.5v1.5h-1.5zM404.15 361.25h1.5v1.5h-1.5zM409.15 362h1.5v1.5h-1.5zM411.65 365h1.5v1.5h-1.5zM422.85 362.5h1.5v1.5h-1.5zM430.35 361.25h1.5v1.5h-1.5zM434.5 362.5h1.5v1.5h-1.5zM443.5 362.5h1.5v1.5h-1.5zM445.35 362.5h1.5v1.5h-1.5zM398.75 365.35h1.5v1.5h-1.5zM400.35 364.75h1.5v1.5h-1.5zM421.65 366h1.5v1.5h-1.5zM451.75 330.25h1.5v1.5h-1.5zM475.5 326.75h1.5v1.5h-1.5zM492.15 326.35h1.5v1.5h-1.5zM449 344.85h1.5v1.5h-1.5zM452.75 348.65h1.5v1.5h-1.5zM454.65 349h1.5v1.5h-1.5zM463.75 347.35h1.5v1.5h-1.5zM468.35 345.25h1.5v1.5h-1.5zM473.75 346.15h1.5v1.5h-1.5zM478.75 342.35h1.5v1.5h-1.5zM492.75 352.75h1.5v1.5h-1.5zM456.75 357.65h1.5v1.5h-1.5zM465.5 359.85h1.5v1.5h-1.5zM465.25 362.75h1.5v1.5h-1.5zM490 365.25h1.5v1.5h-1.5z" fill="#666" fill-opacity="0.85"/><text transform="translate(278.7 308.38) rotate(-90) scale(0.69 1)" font-size="11" text-anchor="middle" fill="#1a1a1a" stroke="#1a1a1a" stroke-width="0.35">Overll healthcare utilization</text><text transform="translate(290.1 309.27) rotate(-90) scale(0.705 1)" font-size="11" text-anchor="middle" fill="#1a1a1a" stroke="#1a1a1a" stroke-width="0.35">per OS month</text><text transform="translate(415.25 400.15) scale(0.725 1)" font-size="10.25" text-anchor="middle" fill="#1a1a1a" stroke="#1a1a1a" stroke-width="0.3">EFS (months)</text><text x="458.2" y="258.8" font-size="8.3" fill="#1a1a1a" stroke="#1a1a1a" stroke-width="0.12" style="white-space:pre">Age ≥65</text><text x="458.2" y="269.85" font-size="8.3" fill="#1a1a1a" stroke="#1a1a1a" stroke-width="0.12" style="white-space:pre">r = -0.41</text><text x="458.2" y="280.9" font-size="8.3" fill="#1a1a1a" stroke="#1a1a1a" stroke-width="0.12" style="white-space:pre">p&lt;0.001</text></g>
<g><text x="8.4" y="431.05" font-size="13" font-weight="bold" fill="#000" stroke="#000" stroke-width="0.45">E</text><path d="M59 439.5V564H248.25" fill="none" stroke="#1a1a1a" stroke-width="1.5"/><text x="52" y="566.9" font-size="9.5" text-anchor="end" fill="#1a1a1a">0</text><text x="52" y="536.84" font-size="9.5" text-anchor="end" fill="#1a1a1a">40</text><text x="52" y="506.77" font-size="9.5" text-anchor="end" fill="#1a1a1a">80</text><text x="52" y="476.71" font-size="9.5" text-anchor="end" fill="#1a1a1a">120</text><text x="52" y="446.65" font-size="9.5" text-anchor="end" fill="#1a1a1a">160</text><text x="59" y="579.1" font-size="9.5" text-anchor="middle" fill="#1a1a1a">0</text><text x="90.08" y="579.1" font-size="9.5" text-anchor="middle" fill="#1a1a1a">6</text><text x="121.17" y="579.1" font-size="9.5" text-anchor="middle" fill="#1a1a1a">12</text><text x="152.25" y="579.1" font-size="9.5" text-anchor="middle" fill="#1a1a1a">18</text><text x="183.33" y="579.1" font-size="9.5" text-anchor="middle" fill="#1a1a1a">24</text><text x="214.42" y="579.1" font-size="9.5" text-anchor="middle" fill="#1a1a1a">30</text><text x="245.5" y="579.1" font-size="9.5" text-anchor="middle" fill="#1a1a1a">36</text><path d="M55.3 564H59M55.3 533.94H59M55.3 503.88H59M55.3 473.81H59M55.3 443.75H59M59 564V567.2M90.08 564V567.2M121.17 564V567.2M152.25 564V567.2M183.33 564V567.2M214.42 564V567.2M245.5 564V567.2" stroke="#1a1a1a" stroke-width="1.2" fill="none"/><line x1="65.5" y1="515" x2="236.25" y2="560.75" stroke="#aa0a28" stroke-width="2"/><path d="M69.5 440h1.5v1.5h-1.5zM71.15 450h1.5v1.5h-1.5zM95.15 472h1.5v1.5h-1.5zM78.25 476h1.5v1.5h-1.5zM90.75 476.25h1.5v1.5h-1.5zM79.25 479.35h1.5v1.5h-1.5zM75.25 483.15h1.5v1.5h-1.5zM71.5 484.5h1.5v1.5h-1.5zM78.65 486h1.5v1.5h-1.5zM86.5 485.35h1.5v1.5h-1.5zM99.5 484.75h1.5v1.5h-1.5zM74.5 492.15h1.5v1.5h-1.5zM73.65 494.25h1.5v1.5h-1.5zM72 498h1.5v1.5h-1.5zM77.35 496.5h1.5v1.5h-1.5zM86.15 497.15h1.5v1.5h-1.5zM90.75 496.25h1.5v1.5h-1.5zM87 500h1.5v1.5h-1.5zM97.35 498.35h1.5v1.5h-1.5zM109 499.25h1.5v1.5h-1.5zM64.25 503h1.5v1.5h-1.5zM71.5 503h1.5v1.5h-1.5zM77.75 501.25h1.5v1.5h-1.5zM76.5 504.65h1.5v1.5h-1.5zM77.35 506.5h1.5v1.5h-1.5zM77.75 507.5h1.5v1.5h-1.5zM81.75 506.25h1.5v1.5h-1.5zM82 508h1.5v1.5h-1.5zM84.85 505.5h1.5v1.5h-1.5zM87.75 504.65h1.5v1.5h-1.5zM86.15 508.35h1.5v1.5h-1.5zM118 503.35h1.5v1.5h-1.5zM119.5 501.25h1.5v1.5h-1.5zM114.25 508.75h1.5v1.5h-1.5zM76.15 510.85h1.5v1.5h-1.5zM90.75 512.15h1.5v1.5h-1.5zM94.85 513h1.5v1.5h-1.5zM114.25 514.25h1.5v1.5h-1.5zM123.65 515h1.5v1.5h-1.5zM80.75 514.65h1.5v1.5h-1.5zM82.75 515.25h1.5v1.5h-1.5zM72.75 515.5h1.5v1.5h-1.5zM71.5 519.25h1.5v1.5h-1.5zM99 518h1.5v1.5h-1.5zM103 517.5h1.5v1.5h-1.5zM106.75 517.5h1.5v1.5h-1.5zM87.35 518.75h1.5v1.5h-1.5zM102.35 520.5h1.5v1.5h-1.5zM107.35 520.85h1.5v1.5h-1.5zM73 521.5h1.5v1.5h-1.5zM78 522.5h1.5v1.5h-1.5zM79.85 521.5h1.5v1.5h-1.5zM81.15 523h1.5v1.5h-1.5zM82.35 521.5h1.5v1.5h-1.5zM64.85 522.75h1.5v1.5h-1.5zM86.15 524h1.5v1.5h-1.5zM114.25 522.5h1.5v1.5h-1.5zM112.35 524h1.5v1.5h-1.5zM77.35 523.85h1.5v1.5h-1.5zM79 524.75h1.5v1.5h-1.5zM82.35 525.75h1.5v1.5h-1.5zM86.15 523.85h1.5v1.5h-1.5zM72.35 526h1.5v1.5h-1.5zM74.85 528h1.5v1.5h-1.5zM74.5 529.25h1.5v1.5h-1.5zM81.5 527h1.5v1.5h-1.5zM82 528.5h1.5v1.5h-1.5zM83.65 529.25h1.5v1.5h-1.5zM87.75 529.75h1.5v1.5h-1.5zM71.15 530.5h1.5v1.5h-1.5zM68.25 532.25h1.5v1.5h-1.5zM77.75 532.65h1.5v1.5h-1.5zM81.15 532.25h1.5v1.5h-1.5zM98 529.5h1.5v1.5h-1.5zM101.75 528.25h1.5v1.5h-1.5zM102.75 525.5h1.5v1.5h-1.5zM111.75 524.5h1.5v1.5h-1.5zM112.75 526.35h1.5v1.5h-1.5zM116.75 531h1.5v1.5h-1.5zM109.25 531h1.5v1.5h-1.5zM110.75 533h1.5v1.5h-1.5zM76.5 535.15h1.5v1.5h-1.5zM76.15 536.35h1.5v1.5h-1.5zM80.75 535.15h1.5v1.5h-1.5zM82 536h1.5v1.5h-1.5zM83.65 537.25h1.5v1.5h-1.5zM82.75 538.25h1.5v1.5h-1.5zM87.75 536h1.5v1.5h-1.5zM91.5 535.15h1.5v1.5h-1.5zM95.75 534.25h1.5v1.5h-1.5zM98.25 533.85h1.5v1.5h-1.5zM102.35 533.5h1.5v1.5h-1.5zM105.75 532.65h1.5v1.5h-1.5zM99.5 537.65h1.5v1.5h-1.5zM109.85 537h1.5v1.5h-1.5zM114.25 538h1.5v1.5h-1.5zM123.25 536h1.5v1.5h-1.5zM106.15 540.5h1.5v1.5h-1.5zM105.75 541.75h1.5v1.5h-1.5zM109.5 541.75h1.5v1.5h-1.5zM110.75 541.35h1.5v1.5h-1.5zM114.25 541h1.5v1.5h-1.5zM119 540.75h1.5v1.5h-1.5zM123.25 542.25h1.5v1.5h-1.5zM70.75 543.5h1.5v1.5h-1.5zM72.35 544.5h1.5v1.5h-1.5zM74.5 542.65h1.5v1.5h-1.5zM79.85 543.5h1.5v1.5h-1.5zM82.35 543h1.5v1.5h-1.5zM84.25 544.75h1.5v1.5h-1.5zM84.5 546.35h1.5v1.5h-1.5zM88.65 546.35h1.5v1.5h-1.5zM110.75 546.35h1.5v1.5h-1.5zM113 546h1.5v1.5h-1.5zM112 549.25h1.5v1.5h-1.5zM121.75 549.25h1.5v1.5h-1.5zM80.25 552.25h1.5v1.5h-1.5zM97.35 551.75h1.5v1.5h-1.5zM102.75 551.35h1.5v1.5h-1.5zM106.75 552h1.5v1.5h-1.5zM92 554.75h1.5v1.5h-1.5zM76.75 556.35h1.5v1.5h-1.5zM73.25 558h1.5v1.5h-1.5zM99.5 556.75h1.5v1.5h-1.5zM101.15 558.25h1.5v1.5h-1.5zM168.75 503.5h1.5v1.5h-1.5zM134.15 510.15h1.5v1.5h-1.5zM130.75 513h1.5v1.5h-1.5zM138.25 513h1.5v1.5h-1.5zM124.15 514.75h1.5v1.5h-1.5zM127.5 518.85h1.5v1.5h-1.5zM140.75 518.85h1.5v1.5h-1.5zM147.25 518.85h1.5v1.5h-1.5zM153.5 517h1.5v1.5h-1.5zM149.5 522.65h1.5v1.5h-1.5zM165 527.25h1.5v1.5h-1.5zM146.65 529.75h1.5v1.5h-1.5zM125.35 532.25h1.5v1.5h-1.5zM122.85 536.35h1.5v1.5h-1.5zM127.25 535.5h1.5v1.5h-1.5zM128.75 536.75h1.5v1.5h-1.5zM130 537.25h1.5v1.5h-1.5zM140.35 535.15h1.5v1.5h-1.5zM156 535.75h1.5v1.5h-1.5zM176 535.5h1.5v1.5h-1.5zM163.5 540.5h1.5v1.5h-1.5zM123.5 542.65h1.5v1.5h-1.5zM132.25 541.35h1.5v1.5h-1.5zM134.15 542.25h1.5v1.5h-1.5zM144.15 541.35h1.5v1.5h-1.5zM170.35 544.75h1.5v1.5h-1.5zM174.75 545.15h1.5v1.5h-1.5zM184.15 544.5h1.5v1.5h-1.5zM166.65 548h1.5v1.5h-1.5zM168.25 548.85h1.5v1.5h-1.5zM171.25 548.5h1.5v1.5h-1.5zM122.5 549.5h1.5v1.5h-1.5zM130.35 552.25h1.5v1.5h-1.5zM144.15 554.25h1.5v1.5h-1.5zM155.35 555.15h1.5v1.5h-1.5zM170.35 553.85h1.5v1.5h-1.5zM162 558.5h1.5v1.5h-1.5zM169.15 558.25h1.5v1.5h-1.5zM137.5 560.75h1.5v1.5h-1.5zM190.85 535.15h1.5v1.5h-1.5zM189.65 550.15h1.5v1.5h-1.5zM202.15 548.85h1.5v1.5h-1.5zM205 548.25h1.5v1.5h-1.5zM212.15 548.25h1.5v1.5h-1.5zM207.5 553.85h1.5v1.5h-1.5zM231.25 552.25h1.5v1.5h-1.5zM235 556h1.5v1.5h-1.5zM228.75 560.5h1.5v1.5h-1.5z" fill="#666" fill-opacity="0.85"/><text transform="translate(17.7 501.75) rotate(-90) scale(0.69 1)" font-size="11" text-anchor="middle" fill="#1a1a1a" stroke="#1a1a1a" stroke-width="0.35">Overall healthcare utilization</text><text transform="translate(29.1 502.65) rotate(-90) scale(0.705 1)" font-size="11" text-anchor="middle" fill="#1a1a1a" stroke="#1a1a1a" stroke-width="0.35">per OS month</text><text transform="translate(153.62 593.65) scale(0.725 1)" font-size="10.25" text-anchor="middle" fill="#1a1a1a" stroke="#1a1a1a" stroke-width="0.3">EFS (months)</text><text x="138.8" y="452.8" font-size="8.3" fill="#1a1a1a" stroke="#1a1a1a" stroke-width="0.12" style="white-space:pre">Intensive chemotherapy</text><text x="138.8" y="464.05" font-size="8.3" fill="#1a1a1a" stroke="#1a1a1a" stroke-width="0.12" style="white-space:pre">± non-chemotherapy</text><text x="138.8" y="475.3" font-size="8.3" fill="#1a1a1a" stroke="#1a1a1a" stroke-width="0.12" style="white-space:pre">r = -0.47</text><text x="138.8" y="486.55" font-size="8.3" fill="#1a1a1a" stroke="#1a1a1a" stroke-width="0.12" style="white-space:pre">p&lt;0.001</text></g>
<g><text x="269.9" y="431.55" font-size="13" font-weight="bold" fill="#000" stroke="#000" stroke-width="0.45">F</text><path d="M320 439.5V564.25H510.5" fill="none" stroke="#1a1a1a" stroke-width="1.5"/><text x="313" y="567.15" font-size="9.5" text-anchor="end" fill="#1a1a1a">0</text><text x="313" y="543.6" font-size="9.5" text-anchor="end" fill="#1a1a1a">20</text><text x="313" y="520.05" font-size="9.5" text-anchor="end" fill="#1a1a1a">40</text><text x="313" y="496.5" font-size="9.5" text-anchor="end" fill="#1a1a1a">60</text><text x="313" y="472.95" font-size="9.5" text-anchor="end" fill="#1a1a1a">80</text><text x="313" y="449.4" font-size="9.5" text-anchor="end" fill="#1a1a1a">100</text><text x="320" y="579.35" font-size="9.5" text-anchor="middle" fill="#1a1a1a">0</text><text x="351.12" y="579.35" font-size="9.5" text-anchor="middle" fill="#1a1a1a">6</text><text x="382.25" y="579.35" font-size="9.5" text-anchor="middle" fill="#1a1a1a">12</text><text x="413.38" y="579.35" font-size="9.5" text-anchor="middle" fill="#1a1a1a">18</text><text x="444.5" y="579.35" font-size="9.5" text-anchor="middle" fill="#1a1a1a">24</text><text x="475.62" y="579.35" font-size="9.5" text-anchor="middle" fill="#1a1a1a">30</text><text x="506.75" y="579.35" font-size="9.5" text-anchor="middle" fill="#1a1a1a">36</text><path d="M316.3 564.25H320M316.3 540.7H320M316.3 517.15H320M316.3 493.6H320M316.3 470.05H320M316.3 446.5H320M320 564.25V567.45M351.12 564.25V567.45M382.25 564.25V567.45M413.38 564.25V567.45M444.5 564.25V567.45M475.62 564.25V567.45M506.75 564.25V567.45" stroke="#1a1a1a" stroke-width="1.2" fill="none"/><line x1="330.5" y1="508.75" x2="479.25" y2="557" stroke="#aa0a28" stroke-width="2"/><path d="M345.15 439.35h1.5v1.5h-1.5zM339.85 452.25h1.5v1.5h-1.5zM334.65 462.25h1.5v1.5h-1.5zM340.25 470.15h1.5v1.5h-1.5zM343.65 470.75h1.5v1.5h-1.5zM358.25 475.35h1.5v1.5h-1.5zM331.5 478.5h1.5v1.5h-1.5zM358.25 481.25h1.5v1.5h-1.5zM331.5 482.85h1.5v1.5h-1.5zM347.75 487h1.5v1.5h-1.5zM355.5 485.75h1.5v1.5h-1.5zM365.75 484.75h1.5v1.5h-1.5zM337.75 492.15h1.5v1.5h-1.5zM338.65 492.15h1.5v1.5h-1.5zM342.35 492.15h1.5v1.5h-1.5zM367.75 491.75h1.5v1.5h-1.5zM335.75 497.15h1.5v1.5h-1.5zM341.75 497.15h1.5v1.5h-1.5zM336.75 500.85h1.5v1.5h-1.5zM343 500h1.5v1.5h-1.5zM352.35 503.15h1.5v1.5h-1.5zM359 501.5h1.5v1.5h-1.5zM366.75 502.75h1.5v1.5h-1.5zM373 503.15h1.5v1.5h-1.5zM383.65 506.75h1.5v1.5h-1.5zM349.25 508h1.5v1.5h-1.5zM362.35 507.35h1.5v1.5h-1.5zM355.5 511.25h1.5v1.5h-1.5zM364 511.75h1.5v1.5h-1.5zM344.85 514.25h1.5v1.5h-1.5zM330.75 515.85h1.5v1.5h-1.5zM341.5 517.15h1.5v1.5h-1.5zM380.25 515.25h1.5v1.5h-1.5zM332.75 518.35h1.5v1.5h-1.5zM333.65 519.25h1.5v1.5h-1.5zM350.75 519.65h1.5v1.5h-1.5zM365.5 519.65h1.5v1.5h-1.5zM330.75 521.5h1.5v1.5h-1.5zM354.5 522.5h1.5v1.5h-1.5zM361.75 524h1.5v1.5h-1.5zM365.5 522.5h1.5v1.5h-1.5zM360.5 527.65h1.5v1.5h-1.5zM379.85 528h1.5v1.5h-1.5zM330.25 531.75h1.5v1.5h-1.5zM369.5 532.65h1.5v1.5h-1.5zM360.5 535.75h1.5v1.5h-1.5zM375.25 535.75h1.5v1.5h-1.5zM334.25 537.25h1.5v1.5h-1.5zM364 539.25h1.5v1.5h-1.5zM369 537.65h1.5v1.5h-1.5zM374.5 538.5h1.5v1.5h-1.5zM329.5 545.5h1.5v1.5h-1.5zM333.65 544.25h1.5v1.5h-1.5zM338.65 547h1.5v1.5h-1.5zM345.25 547h1.5v1.5h-1.5zM346.5 545.5h1.5v1.5h-1.5zM354.85 546h1.5v1.5h-1.5zM356.5 546.75h1.5v1.5h-1.5zM362.35 550.5h1.5v1.5h-1.5zM375.25 551h1.5v1.5h-1.5zM332 556.75h1.5v1.5h-1.5zM360.25 556h1.5v1.5h-1.5zM364 555.5h1.5v1.5h-1.5zM377.75 556h1.5v1.5h-1.5zM358 558.25h1.5v1.5h-1.5zM385 492.75h1.5v1.5h-1.5zM384.5 506.75h1.5v1.5h-1.5zM391.65 513h1.5v1.5h-1.5zM411 513.65h1.5v1.5h-1.5zM388.5 524h1.5v1.5h-1.5zM415.35 524h1.5v1.5h-1.5zM443.25 523h1.5v1.5h-1.5zM407.85 528h1.5v1.5h-1.5zM429.15 528.25h1.5v1.5h-1.5zM409.15 529.25h1.5v1.5h-1.5zM418.25 530.25h1.5v1.5h-1.5zM388.25 532.15h1.5v1.5h-1.5zM396.25 534.65h1.5v1.5h-1.5zM431.25 534.25h1.5v1.5h-1.5zM391.25 538.35h1.5v1.5h-1.5zM416 541.75h1.5v1.5h-1.5zM426 542.5h1.5v1.5h-1.5zM424.15 545.85h1.5v1.5h-1.5zM390.75 548h1.5v1.5h-1.5zM424.15 550.5h1.5v1.5h-1.5zM418.75 553h1.5v1.5h-1.5zM387.5 553h1.5v1.5h-1.5zM393.75 556.75h1.5v1.5h-1.5zM400 558.75h1.5v1.5h-1.5zM411.65 558.75h1.5v1.5h-1.5zM421.25 559.65h1.5v1.5h-1.5zM433.5 560.85h1.5v1.5h-1.5zM445.75 555.85h1.5v1.5h-1.5zM451.5 524h1.5v1.5h-1.5zM478.35 536.15h1.5v1.5h-1.5zM448.75 538.25h1.5v1.5h-1.5zM452.5 542.35h1.5v1.5h-1.5zM455.5 544.25h1.5v1.5h-1.5zM460 541.15h1.5v1.5h-1.5zM456.75 551.15h1.5v1.5h-1.5zM465 556.15h1.5v1.5h-1.5z" fill="#666" fill-opacity="0.85"/><text transform="translate(278.7 501.88) rotate(-90) scale(0.69 1)" font-size="11" text-anchor="middle" fill="#1a1a1a" stroke="#1a1a1a" stroke-width="0.35">Overall healthcare utilization</text><text transform="translate(290.1 502.77) rotate(-90) scale(0.705 1)" font-size="11" text-anchor="middle" fill="#1a1a1a" stroke="#1a1a1a" stroke-width="0.35">per OS month</text><text transform="translate(415.25 593.9) scale(0.725 1)" font-size="10.25" text-anchor="middle" fill="#1a1a1a" stroke="#1a1a1a" stroke-width="0.3">EFS (months)</text><text x="400.4" y="452.8" font-size="8.3" fill="#1a1a1a" stroke="#1a1a1a" stroke-width="0.12" style="white-space:pre">Hypomethylating agent</text><text x="400.4" y="464.05" font-size="8.3" fill="#1a1a1a" stroke="#1a1a1a" stroke-width="0.12" style="white-space:pre">± non-chemotherapy</text><text x="400.4" y="475.3" font-size="8.3" fill="#1a1a1a" stroke="#1a1a1a" stroke-width="0.12" style="white-space:pre">r = -0.47</text><text x="400.4" y="486.55" font-size="8.3" fill="#1a1a1a" stroke="#1a1a1a" stroke-width="0.12" style="white-space:pre">p&lt;0.001</text></g>
</svg></body></html>
